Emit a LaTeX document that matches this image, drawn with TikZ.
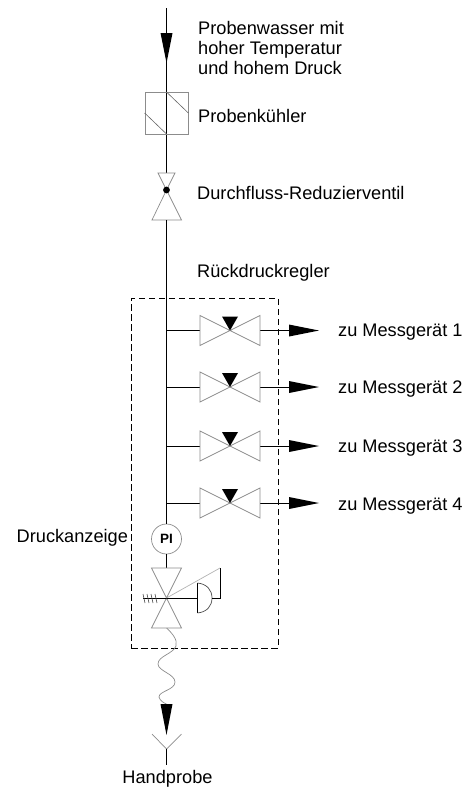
\documentclass[tikz,border=0pt]{standalone}
\usepackage{fontspec}
\setmainfont{Liberation Sans}
\usetikzlibrary{calc}
\tikzset{
  pipe/.style={draw=black,line width=0.9pt},
  thin grey/.style={draw=black!45,line width=0.7pt},
  blackfill/.style={fill=black,draw=none},
  lbl/.style={anchor=base west,inner sep=0pt,font=\fontsize{18.2}{20}\selectfont,text=black},
  lblc/.style={anchor=base,inner sep=0pt,font=\fontsize{18.2}{20}\selectfont,text=black}
}
\newcommand{\branch}[2]{%
  \coordinate (j#1) at (166.5,#2);
  \coordinate (vl#1) at (200,#2);
  \coordinate (vc#1) at (230,#2);
  \coordinate (vr#1) at (260,#2);
  \coordinate (as#1) at (289,#2);
  \coordinate (at#1) at (319,#2);
  \draw[pipe] (j#1) -- (vl#1);
  \draw[pipe] (vr#1) -- (as#1);
  \draw[thin grey] (vc#1) -- ($(vl#1)+(0,-15)$) -- ($(vl#1)+(0,15)$) -- cycle;
  \draw[thin grey] (vc#1) -- ($(vr#1)+(0,-15)$) -- ($(vr#1)+(0,15)$) -- cycle;
  \fill[blackfill] (vc#1) -- ($(vc#1)+(-8,-14)$) -- ($(vc#1)+(8,-14)$) -- cycle;
  \fill[blackfill] (at#1) -- ($(as#1)+(0,-6)$) -- ($(as#1)+(0,6)$) -- cycle;
}
\begin{document}
\begin{tikzpicture}[x=1pt,y=-1pt]
\useasboundingbox (0,0) rectangle (470,787);
% main coordinates
\coordinate (top) at (166.5,8);
\coordinate (a1s) at (166.5,33);
\coordinate (a1t) at (166.5,63);
\coordinate (cool) at (166.5,113);
\coordinate (cooltop) at (166.5,92);
\coordinate (coolbot) at (166.5,134);
\coordinate (rtop) at (166.5,173);
\coordinate (rc) at (166.5,190);
\coordinate (rbot) at (166.5,220);
\coordinate (piC) at (166.5,539);
\coordinate (dv) at (166.5,598);
\coordinate (dvtop) at (166.5,568);
\coordinate (dvbot) at (166.5,628);
\coordinate (a2s) at (166.5,704);
\coordinate (a2t) at (166.5,735);
\coordinate (ysplit) at (166.5,749);
\coordinate (yend) at (166.5,765);
% pipes
\draw[pipe] (top) -- (coolbot);
\draw[pipe] (coolbot) -- (rtop);
% inlet arrow
\fill[blackfill] (a1t) -- ($(a1s)+(-6,0)$) -- ($(a1s)+(6,0)$) -- cycle;
% cooler
\node[thin grey,minimum width=43pt,minimum height=42pt,inner sep=0pt,shape=rectangle] (cooler) at (cool) {};
\draw[draw=black!60,line width=0.6pt] (cooltop) -- (cooler.east);
\draw[draw=black!60,line width=0.6pt] (coolbot) -- (cooler.west);
% reducer valve
\draw[thin grey] (rc) -- ($(rtop)+(-8.5,0)$) -- ($(rtop)+(8.5,0)$) -- cycle;
\draw[thin grey] (rc) -- ($(rbot)+(-14.5,0)$) -- ($(rbot)+(15,0)$) -- cycle;
\fill[black] (rc) circle (3.4pt);
% riser
\node[circle,thin grey,minimum size=30pt,inner sep=0pt,font=\fontsize{13.5}{15}\selectfont\bfseries] (pi) at (piC) {PI};
\draw[pipe] (rbot) -- (pi.north);
\draw[pipe] (pi.south) -- (dvtop);
% box
\node[draw=black,dashed,dash pattern=on 6.5pt off 3.5pt,line width=0.9pt,minimum width=147pt,minimum height=350pt,inner sep=0pt] (box) at (204.5,473) {};
% branches
\branch{1}{330.5}
\branch{2}{387}
\branch{3}{446}
\branch{4}{503}
% pressure regulator
\draw[thin grey] (dv) -- ($(dvtop)+(-15,0)$) -- ($(dvtop)+(15,0)$) -- cycle;
\draw[thin grey] (dv) -- ($(dvbot)+(-15,0)$) -- ($(dvbot)+(15,0)$) -- cycle;
\coordinate (stemL) at (143,598);
\coordinate (dia) at (197.5,598);
\coordinate (diaT) at (197.5,583);
\coordinate (diaB) at (197.5,613);
\coordinate (diaR) at (212,598);
\coordinate (bleed) at (220,598);
\coordinate (bleedT) at (220,568);
\draw[pipe,line width=0.8pt] (stemL) -- (dia);
\draw[pipe,line width=0.8pt] (diaT) -- (diaB);
\draw[draw=black!70,line width=0.7pt] (diaT) .. controls (207,584) and (212,590) .. (diaR) .. controls (212,606) and (207,612) .. (diaB);
\draw[pipe,line width=0.8pt] (diaR) -- (bleed) -- (bleedT);
\draw[draw=black!30,line width=0.7pt] (dv) -- (bleedT);
\foreach \x in {143,147,151,155}
  \draw[draw=black!70,line width=0.6pt] (\x,594) -- (\x+2,603);
% flexible hose
\draw[thin grey] (dvbot) .. controls (172,633) and (178,640) .. (176,646)
  .. controls (173,654) and (158,656) .. (158,664)
  .. controls (158,671) and (175,674) .. (175,682)
  .. controls (175,690) and (159,691) .. (159,697)
  .. controls (160,701) and (164,703) .. (a2s);
% outlet
\fill[blackfill] (a2t) -- ($(a2s)+(-6,0)$) -- ($(a2s)+(6,0)$) -- cycle;
\draw[thin grey] ($(ysplit)+(-14.5,-15)$) -- (ysplit) -- ($(ysplit)+(15,-15)$);
\draw[pipe] (ysplit) -- (yend);
% labels
\node[lbl] (t1) at (198,34) {Probenwasser mit};
\node[lbl] (t2) at (198,54) {hoher Temperatur};
\node[lbl] (t3) at (198,74) {und hohem Druck};
\node[lbl] (t4) at (198,122) {Probenkühler};
\node[lbl] (t5) at (197,199) {Durchfluss-Reduzierventil};
\node[lbl] (t6) at (197,277) {Rückdruckregler};
\node[lbl] (m1) at (338,336) {zu Messgerät 1};
\node[lbl] (m2) at (338,393) {zu Messgerät 2};
\node[lbl] (m3) at (338,452) {zu Messgerät 3};
\node[lbl] (m4) at (338,510) {zu Messgerät 4};
\node[lbl] (t7) at (16.5,542) {Druckanzeige};
\node[lblc] (t8) at (167.5,783) {Handprobe};
\end{tikzpicture}
\end{document}
